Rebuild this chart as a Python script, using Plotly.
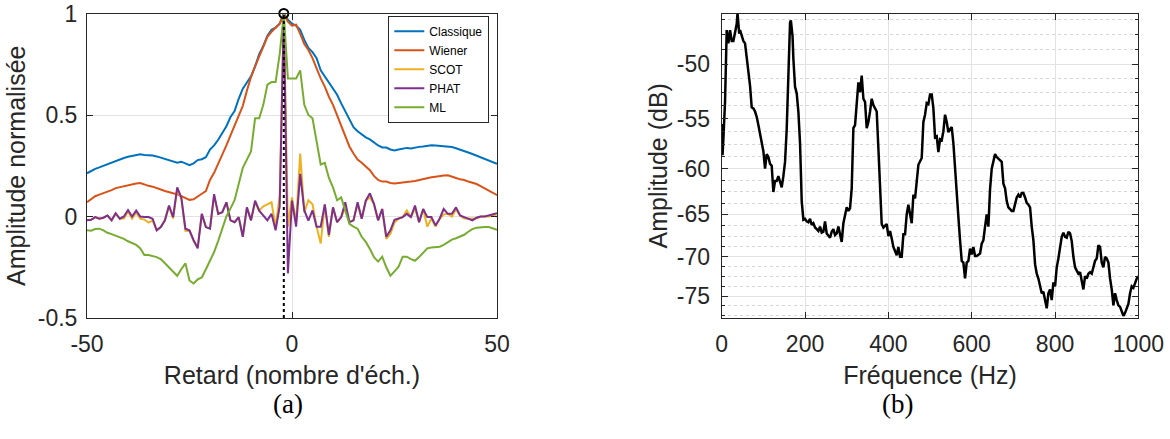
import math
import plotly.graph_objects as go

# ---------------- data: (a) normalised cross-correlations ----------------
lags = list(range(-50, 51))

classique = [0.213, 0.225, 0.235, 0.242, 0.25, 0.256, 0.265, 0.275, 0.282, 0.288,
             0.294, 0.298, 0.303, 0.306, 0.303, 0.302, 0.300, 0.296, 0.29, 0.282,
             0.275, 0.27, 0.265, 0.27, 0.26, 0.253, 0.262, 0.278, 0.282, 0.292,
             0.33, 0.35, 0.378, 0.41, 0.445, 0.49, 0.52, 0.58, 0.63, 0.66,
             0.69, 0.74, 0.80, 0.84, 0.89, 0.92, 0.93, 0.95, 1.0, 0.97,
             0.95, 0.94, 0.92, 0.87, 0.83, 0.81, 0.78, 0.72, 0.69, 0.66,
             0.63, 0.6, 0.557, 0.52, 0.48, 0.44, 0.42, 0.405, 0.39, 0.38,
             0.365, 0.35, 0.34, 0.34, 0.33, 0.325, 0.33, 0.335, 0.338, 0.335,
             0.34, 0.343, 0.345, 0.348, 0.351, 0.35, 0.348, 0.348, 0.346, 0.342,
             0.336, 0.33, 0.322, 0.315, 0.308, 0.3, 0.29, 0.282, 0.274, 0.266,
             0.26]

wiener = [0.07, 0.085, 0.1, 0.108, 0.115, 0.12, 0.13, 0.14, 0.145, 0.15,
          0.154, 0.158, 0.163, 0.165, 0.156, 0.151, 0.147, 0.138, 0.133, 0.126,
          0.122, 0.115, 0.11, 0.1, 0.088, 0.082, 0.085, 0.1, 0.112, 0.125,
          0.18, 0.215, 0.26, 0.3, 0.35, 0.4, 0.45, 0.5, 0.545, 0.62,
          0.687, 0.74, 0.79, 0.84, 0.885, 0.91, 0.93, 0.95, 1.0, 0.96,
          0.94, 0.945, 0.9, 0.85, 0.82, 0.78, 0.73, 0.68, 0.64, 0.59,
          0.55, 0.5, 0.45, 0.4, 0.345, 0.31, 0.28, 0.265, 0.245, 0.228,
          0.2, 0.18, 0.172, 0.172, 0.165, 0.162, 0.165, 0.167, 0.167, 0.172,
          0.175, 0.18, 0.185, 0.19, 0.193, 0.196, 0.2, 0.202, 0.203, 0.198,
          0.19, 0.183, 0.18, 0.172, 0.167, 0.16, 0.15, 0.14, 0.13, 0.117,
          0.105]

scot = [-0.019, -0.016, -0.003, -0.011, -0.006, 0.005, -0.019, 0.016, -0.011, -0.01,
        0.025, -0.01, 0.02, -0.01, -0.015, -0.03, -0.02, -0.068, -0.052, -0.019,
        0.05, -0.01, 0.13, 0.09, -0.07, -0.072, -0.12, -0.15, 0.013, -0.052,
        -0.06, 0.1, 0.013, 0.021, 0.07, -0.019, -0.028, -0.003, -0.1, 0.045,
        -0.019, 0.07, 0.029, 0.05, 0.06, 0.07, -0.05, 0.1, 1.0, -0.05,
        0.094, -0.03, 0.31, 0.02, 0.08, 0.06, -0.05, -0.133, 0.06, -0.1,
        0.045, -0.028, -0.003, 0.045, -0.028, -0.019, 0.06, -0.011, 0.078, 0.095,
        0.06, -0.019, 0.037, -0.11, -0.085, -0.03, -0.011, -0.003, 0.03, -0.003,
        0.04, -0.028, 0.037, -0.05, -0.01, -0.05, -0.011, 0.01, 0.013, 0.0,
        0.035, 0.005, -0.01, -0.011, -0.012, -0.01, 0.0, 0.0, 0.0, 0.005,
        0.0]

phat = [-0.019, -0.016, -0.003, -0.011, -0.006, 0.005, -0.019, 0.016, -0.011, 0.0,
        0.032, 0.0, 0.029, 0.0, -0.003, -0.003, -0.011, -0.068, -0.052, -0.019,
        0.054, -0.003, 0.143, 0.094, -0.06, -0.068, -0.117, -0.157, 0.013, -0.052,
        -0.06, 0.11, 0.013, 0.021, 0.07, -0.019, -0.028, -0.003, -0.1, 0.045,
        -0.019, 0.078, 0.029, 0.005, -0.019, 0.013, -0.068, 0.05, 1.0, -0.28,
        0.078, -0.05, 0.21, 0.03, -0.02, 0.03, -0.05, -0.05, 0.06, -0.09,
        0.045, -0.028, -0.003, 0.07, -0.028, -0.019, 0.07, -0.011, 0.078, 0.114,
        0.062, -0.019, 0.037, -0.1, -0.068, -0.016, -0.011, -0.003, 0.013, -0.003,
        0.054, -0.028, 0.037, -0.003, -0.003, -0.044, -0.011, 0.037, 0.013, 0.013,
        0.045, 0.005, -0.003, -0.011, -0.019, -0.006, 0.0, 0.0, 0.005, 0.013,
        0.016]

ml = [-0.068, -0.07, -0.062, -0.06, -0.068, -0.08, -0.087, -0.095, -0.1, -0.11,
      -0.122, -0.13, -0.14, -0.157, -0.19, -0.19, -0.195, -0.2, -0.21, -0.23,
      -0.25, -0.275, -0.292, -0.26, -0.23, -0.315, -0.33, -0.31, -0.3, -0.26,
      -0.22, -0.175, -0.12, -0.06, 0.0, 0.04, 0.08, 0.16, 0.24, 0.28,
      0.32, 0.484, 0.484, 0.55, 0.65, 0.662, 0.662, 0.8, 1.0, 0.68,
      0.68, 0.68, 0.72, 0.55, 0.5, 0.484, 0.37, 0.256, 0.264, 0.19,
      0.143, 0.08, 0.094, 0.03, -0.036, -0.05, -0.06, -0.1, -0.125, -0.16,
      -0.2, -0.222, -0.198, -0.25, -0.292, -0.27, -0.247, -0.198, -0.198, -0.21,
      -0.218, -0.2, -0.18, -0.157, -0.153, -0.15, -0.149, -0.14, -0.125, -0.114,
      -0.107, -0.1, -0.09, -0.075, -0.062, -0.055, -0.052, -0.052, -0.052, -0.058,
      -0.065]

series_names = ["Classique", "Wiener", "SCOT", "PHAT", "ML"]
series_vals = [classique, wiener, scot, phat, ml]
series_colors = ["#0072BD", "#D95319", "#EDB120", "#7E2F8E", "#77AC30"]

# ---------------- data: (b) spectrum ----------------
freq_hz = [0, 2, 4, 8, 12, 16, 20, 24, 28, 32, 36, 38, 42, 44, 48, 52, 56, 60, 64, 68,
           72, 76, 80, 84, 88, 92, 96, 100, 104, 108, 112, 116, 120, 124, 128, 132, 136, 140, 144, 148,
           152, 156, 160, 164, 166, 170, 172, 176, 180, 184, 188, 192, 196, 200, 204, 208, 212, 216, 220, 224,
           228, 232, 236, 240, 244, 248, 252, 256, 260, 264, 268, 272, 276, 280, 284, 288, 292, 296, 300, 304,
           308, 312, 316, 320, 324, 328, 332, 336, 340, 344, 348, 352, 356, 360, 364, 368, 372, 376, 380, 384,
           388, 392, 396, 400, 404, 408, 412, 416, 420, 424, 428, 432, 436, 440, 444, 448, 452, 456, 460, 464,
           472, 476, 480, 484, 488, 492, 496, 500, 504, 508, 512, 516, 520, 524, 528, 532, 536, 540, 544, 548,
           552, 556, 560, 564, 568, 572, 576, 580, 584, 588, 592, 596, 600, 604, 608, 612, 620, 624, 628, 632,
           636, 640, 644, 648, 652, 656, 660, 668, 672, 676, 680, 684, 688, 692, 696, 700, 704, 708, 712, 716,
           720, 724, 728, 732, 736, 740, 744, 748, 752, 756, 760, 764, 768, 772, 776, 780, 784, 788, 792, 796,
           800, 804, 808, 812, 816, 820, 824, 828, 832, 836, 840, 844, 848, 852, 856, 860, 864, 868, 872, 876,
           880, 884, 888, 892, 896, 900, 904, 908, 912, 916, 920, 924, 928, 932, 936, 940, 944, 948, 952, 956,
           960, 964, 968, 972, 976, 980, 984, 988, 992, 996, 1000]
amp_db = [-55.5, -58.6, -57.0, -53.4, -47.1, -48.2, -47.1, -48.0, -48.0, -47.4, -46.6, -45.7, -47.4, -47.1, -47.6, -48.0, -48.2, -49.3, -50.7, -51.9,
          -53.9, -54.0, -54.3, -54.8, -55.6, -56.5, -57.3, -58.2, -60.0, -58.5, -58.8, -59.5, -59.7, -62.5, -61.3, -61.3, -60.8, -61.3, -62.0, -60.8,
          -59.3, -56.0, -50.4, -46.5, -46.3, -47.6, -49.5, -52.0, -52.6, -54.3, -57.4, -63.5, -65.6, -65.5, -65.8, -65.9, -65.5, -66.2, -66.0, -66.5,
          -66.7, -66.9, -66.4, -67.1, -67.0, -65.8, -67.2, -67.5, -67.7, -67.0, -66.7, -67.4, -67.2, -66.4, -67.5, -68.2, -66.0, -65.0, -64.2, -64.6,
          -64.3, -62.1, -55.9, -55.6, -53.1, -51.6, -52.5, -51.0, -53.1, -53.4, -55.9, -55.3, -54.3, -53.1, -53.7, -54.0, -54.3, -57.9, -62.1, -66.1,
          -66.5, -66.3, -66.1, -67.5, -66.9, -67.8, -68.8, -69.3, -69.8, -68.8, -70.0, -70.0, -67.3, -67.3, -65.0, -63.9, -65.0, -66.0, -62.8, -63.2,
          -59.6, -59.3, -58.9, -55.3, -54.6, -53.5, -53.6, -52.7, -52.7, -54.0, -56.8, -56.7, -58.3, -57.0, -57.1, -56.2, -54.6, -55.3, -56.3, -56.0,
          -55.8, -57.4, -60.0, -63.5, -65.3, -68.0, -70.5, -70.7, -72.7, -70.7, -70.5, -69.0, -69.7, -68.8, -69.9, -69.9, -69.6, -68.4, -68.0, -66.4,
          -65.0, -66.4, -62.2, -60.0, -59.1, -58.5, -58.8, -59.1, -59.3, -61.6, -62.1, -63.5, -64.2, -64.4, -64.6, -64.6, -63.9, -63.1, -62.8, -63.1,
          -62.6, -62.6, -63.1, -63.7, -63.9, -64.2, -66.4, -68.0, -70.9, -72.1, -72.7, -73.7, -74.6, -74.4, -75.3, -76.6, -74.6, -74.1, -75.5, -73.2,
          -73.7, -71.3, -70.2, -68.6, -67.6, -67.1, -67.6, -67.7, -67.0, -67.2, -68.1, -70.0, -71.3, -71.7, -72.1, -71.9, -73.2, -74.1, -72.4, -72.7,
          -72.1, -71.9, -72.1, -71.3, -70.5, -70.2, -68.6, -68.8, -70.7, -71.3, -70.0, -70.2, -70.7, -72.7, -74.1, -76.2, -74.6, -75.5, -76.2, -76.4,
          -77.0, -77.6, -77.2, -76.6, -76.0, -74.6, -73.7, -73.9, -73.2, -72.7, -72.4]

db_ticks = [-50, -55, -60, -65, -70, -75]
db_minor = [-46.25, -47.5, -48.75, -51.25, -52.5, -53.75, -56.25, -57.5, -58.75,
            -61.25, -62.5, -63.75, -66.25, -67.5, -68.75, -71.25, -72.5, -73.75,
            -76.25, -77.5]
db_range = (-45.75, -77.9)

# ---------------- styling ----------------
AX = "rgb(38,38,38)"
GRID = "rgb(226,226,226)"
MINOR = "rgb(214,214,214)"
SANS = "Liberation Sans, Arial, sans-serif"
SERIF = "Liberation Serif, serif"
TICKF = dict(family=SANS, size=23, color=AX)
TITLEF = dict(family=SANS, size=25, color=AX)

fig = go.Figure()

for name, vals, col in zip(series_names, series_vals, series_colors):
    fig.add_trace(go.Scatter(x=lags, y=vals, mode="lines", name=name,
                             line=dict(color=col, width=2), xaxis="x", yaxis="y"))

peak_idx = max(range(len(classique)), key=lambda i: classique[i])
peak_lag = lags[peak_idx]
fig.add_trace(go.Scatter(x=[peak_lag, peak_lag], y=[-0.5, classique[peak_idx]], mode="lines",
                         line=dict(color="black", width=2, dash="dot"), showlegend=False,
                         xaxis="x", yaxis="y"))
fig.add_trace(go.Scatter(x=[peak_lag], y=[classique[peak_idx]], mode="markers",
                         marker=dict(symbol="circle-open", size=9, color="black",
                                     line=dict(width=2, color="black")),
                         showlegend=False, xaxis="x", yaxis="y", cliponaxis=False))

# log axis on |dB| reversed, to reproduce the original scale
fig.add_trace(go.Scatter(x=freq_hz, y=[-v for v in amp_db], mode="lines",
                         line=dict(color="black", width=2.5), showlegend=False,
                         xaxis="x2", yaxis="y2"))

W, H = 1170, 439
yd = [1 - 318 / H, 1 - 13.5 / H]

common = dict(showline=True, linecolor=AX, linewidth=1, mirror="allticks",
              ticks="inside", ticklen=6, tickcolor=AX, showgrid=True, gridcolor=GRID,
              gridwidth=1, zeroline=False, tickfont=TICKF, automargin=False,
              ticklabeloverflow="allow")

fig.update_layout(
    width=W, height=H, margin=dict(l=0, r=0, t=0, b=0),
    paper_bgcolor="white", plot_bgcolor="white",
    xaxis=dict(domain=[87 / W, 497 / W], range=[-50, 50], anchor="y",
               tickvals=[-50, 0, 50], ticktext=["-50", "0", "50"],
               ticklabelstandoff=5,
               title=dict(text="Retard (nombre d'éch.)", font=TITLEF, standoff=10), **common),
    yaxis=dict(domain=yd, range=[-0.5, 1.00001], anchor="x",
               tickvals=[-0.5, 0, 0.5, 1], ticktext=["-0.5", "0", "0.5", "1"],
               ticklabelstandoff=4,
               title=dict(text="Amplitude normalisée", font=TITLEF, standoff=5), **common),
    xaxis2=dict(domain=[721.7 / W, 1138.4 / W], range=[0, 1000], anchor="y2",
                tickvals=[0, 200, 400, 600, 800, 1000],
                ticktext=["0", "200", "400", "600", "800", "1000"],
                ticklabelstandoff=5,
                title=dict(text="Fréquence (Hz)", font=TITLEF, standoff=10), **common),
    yaxis2=dict(domain=yd, type="log", anchor="x2",
                range=[math.log10(-db_range[1]), math.log10(-db_range[0])],
                tickvals=[-v for v in db_ticks], ticktext=[str(v) for v in db_ticks],
                ticklabelstandoff=6,
                minor=dict(tickmode="array", tickvals=[-v for v in db_minor], ticks="inside",
                           ticklen=3, tickcolor=AX, showgrid=True, gridcolor=MINOR,
                           griddash="dot", gridwidth=1),
                title=dict(text="Amplitude (dB)", font=TITLEF, standoff=2), **common),
    legend=dict(x=489.3 / W, xanchor="right", y=1 - 15.7 / H, yanchor="top",
                bgcolor="white", bordercolor=AX, borderwidth=1,
                font=dict(family=SANS, size=12, color="black"),
                tracegroupgap=0, itemwidth=30),
    annotations=[
        dict(text="(a)", x=271 / W, y=1 - 421 / H, xref="paper", yref="paper",
             showarrow=False, font=dict(family=SERIF, size=27, color="black")),
        dict(text="(b)", x=915 / W, y=1 - 421 / H, xref="paper", yref="paper",
             showarrow=False, font=dict(family=SERIF, size=27, color="black")),
    ],
)

fig.write_html("out.html")
